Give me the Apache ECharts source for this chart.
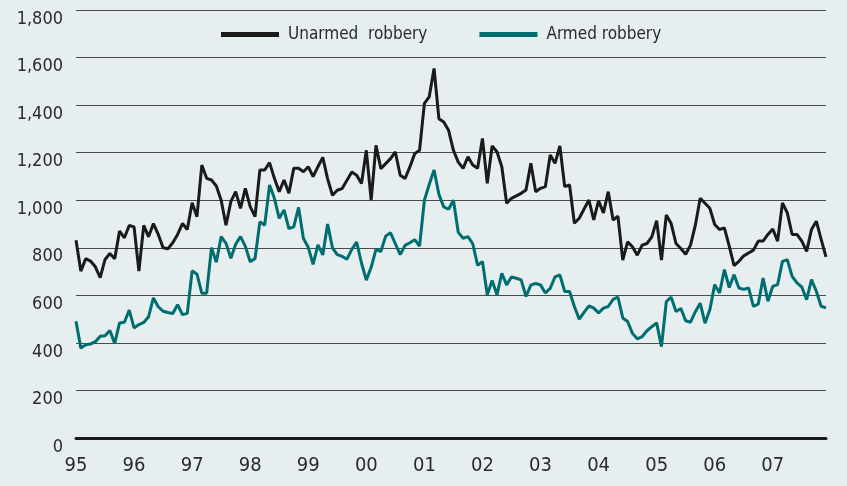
<!DOCTYPE html>
<html>
<head>
<meta charset="utf-8">
<script src="https://cdn.jsdelivr.net/npm/echarts@6/dist/echarts.min.js"></script>
<style>
html,body{margin:0;padding:0;background:#e6eef0;}
#chart{width:847px;height:486px;}
</style>
</head>
<body>
<div id="chart"></div>
<script>
// Monthly, Jan 1995 - Dec 2007
const years = ['95','96','97','98','99','00','01','02','03','04','05','06','07'];
const months = [];
years.forEach(y => { for (let m = 1; m <= 12; m++) months.push(y + '-' + m); });

const unarmed = [
  832, 702, 754, 744, 720, 674, 751, 776, 754, 870, 842, 894,
  888, 702, 894, 846, 902, 856, 800, 796, 821, 856, 902, 877,
  989, 931, 1148, 1092, 1085, 1060, 1000, 895, 994, 1036, 966, 1050,
  973, 931, 1127, 1127, 1158, 1092, 1036, 1085, 1029, 1134, 1134, 1120,
  1141, 1099, 1141, 1180, 1090, 1021, 1042, 1049, 1084, 1119, 1105, 1070,
  1210, 1000, 1231, 1133, 1154, 1175, 1203, 1105, 1091, 1140, 1196, 1210,
  1407, 1435, 1554, 1343, 1329, 1294, 1210, 1160, 1134, 1183, 1148, 1134,
  1260, 1071, 1228, 1204, 1141, 987, 1008, 1018, 1029, 1043, 1155, 1036,
  1050, 1057, 1190, 1155, 1228, 1057, 1064, 903, 924, 963, 1001, 917,
  998, 947, 1036, 917, 933, 748, 825, 804, 769, 811, 818, 846,
  914, 748, 938, 902, 818, 797, 773, 811, 895, 1008, 987, 966,
  898, 877, 884, 807, 725, 743, 766, 778, 790, 828, 828, 856,
  879, 828, 989, 947, 856, 856, 828, 785, 877, 912, 835, 762
];

const armed = [
  491, 378, 392, 395, 405, 428, 430, 452, 398, 484, 487, 538,
  463, 477, 486, 510, 589, 552, 533, 528, 524, 561, 519, 524,
  703, 689, 609, 609, 800, 739, 847, 819, 756, 815, 847, 806,
  741, 755, 909, 895, 1064, 1008, 924, 959, 881, 888, 970, 839,
  802, 730, 812, 770, 900, 800, 771, 764, 752, 793, 824, 736,
  664, 718, 793, 784, 849, 863, 817, 771, 810, 821, 834, 807,
  1000, 1066, 1127, 1025, 972, 962, 1000, 865, 840, 847, 817, 726,
  742, 602, 662, 602, 693, 644, 677, 672, 665, 595, 643, 650,
  644, 610, 629, 678, 686, 616, 616, 553, 500, 528, 556, 546,
  526, 546, 553, 583, 593, 505, 490, 440, 417, 426, 451, 468,
  484, 384, 574, 592, 532, 545, 493, 487, 531, 567, 483, 540,
  645, 610, 708, 633, 687, 631, 625, 631, 554, 563, 673, 575,
  638, 645, 743, 750, 680, 652, 635, 582, 666, 617, 554, 547
];

const yTicks = [0, 200, 400, 600, 800, 1000, 1200, 1400, 1600, 1800];

const FONT = '"DejaVu Sans Condensed", "Liberation Sans Narrow", "Liberation Sans", Arial, sans-serif';
const chart = echarts.init(document.getElementById('chart'), null, {renderer: 'canvas'});
chart.setOption({
  backgroundColor: '#e6eef0',
  animation: false,
  grid: {left: 76, right: 21, top: 10, bottom: 48},
  legend: {
    top: 21,
    left: 216,
    itemGap: 52,
    itemWidth: 58,
    itemHeight: 5,
    icon: 'rect',
    textStyle: {fontFamily: FONT, fontSize: 17, color: '#2a2a2a', padding: [0, 0, 0, 4]},
    data: ['Unarmed  robbery', 'Armed robbery']
  },
  xAxis: {
    type: 'category',
    data: months,
    boundaryGap: false,
    axisLine: {show: true, lineStyle: {color: '#1a1a1a', width: 3}},
    axisTick: {show: false},
    axisLabel: {
      interval: 11,
      margin: 18,
      fontFamily: FONT,
      fontSize: 20,
      color: '#2a2a2a',
      formatter: v => v.split('-')[0]
    },
    splitLine: {show: false}
  },
  yAxis: {
    type: 'value',
    min: yTicks[0],
    max: yTicks[yTicks.length - 1],
    interval: 200,
    axisLine: {show: false},
    axisTick: {show: false},
    axisLabel: {
      margin: 13,
      fontFamily: FONT,
      fontSize: 18,
      color: '#2a2a2a',
      verticalAlign: 'top',
      padding: [0, 0, 0, 0],
      formatter: v => v.toLocaleString('en-US')
    },
    splitLine: {show: true, lineStyle: {color: '#4a4a4a', width: 1}}
  },
  series: [
    {
      name: 'Unarmed  robbery',
      type: 'line',
      data: unarmed,
      showSymbol: false,
      symbol: 'none',
      itemStyle: {color: '#1a1a1a'},
      lineStyle: {color: '#1a1a1a', width: 3}
    },
    {
      name: 'Armed robbery',
      type: 'line',
      data: armed,
      showSymbol: false,
      symbol: 'none',
      itemStyle: {color: '#006d6f'},
      lineStyle: {color: '#006d6f', width: 3}
    }
  ]
});
</script>
</body>
</html>
